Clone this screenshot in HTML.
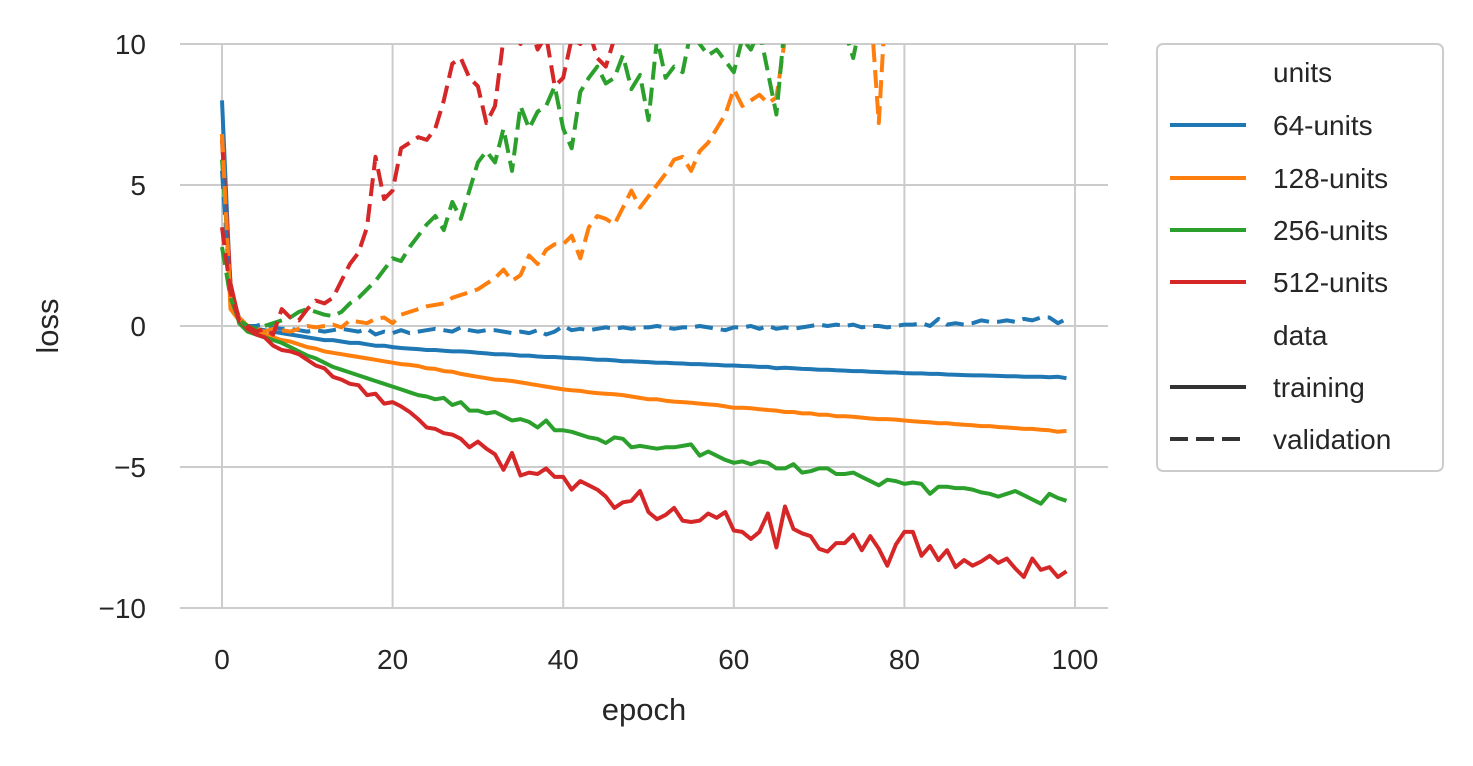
<!DOCTYPE html>
<html><head><meta charset="utf-8"><style>
body{margin:0;background:#fff;}
svg{font-family:"Liberation Sans","DejaVu Sans",sans-serif;}
</style></head><body>
<svg id="chart" width="1473" height="761" viewBox="0 0 1473 761" xmlns="http://www.w3.org/2000/svg">
<defs><clipPath id="pc"><rect x="180" y="44" width="928" height="564"/></clipPath></defs>
<g id="grid"></g>
<g id="xticks"></g>
<g id="yticks"></g>
<g id="series" clip-path="url(#pc)"></g>
<text x="644" y="720" font-size="31" text-anchor="middle" fill="#262626">epoch</text>
<text x="58" y="326" font-size="31" text-anchor="middle" fill="#262626" transform="rotate(-90 58 326)">loss</text>
<g>
<rect x="1157" y="44" width="286" height="427" rx="6" fill="#fff" stroke="#cccccc" stroke-width="2"/>
<text x="1273" y="82" font-size="28" fill="#262626">units</text>
<line x1="1170" y1="125" x2="1246" y2="125" stroke="#1f77b4" stroke-width="4"/><text x="1273" y="135" font-size="28" fill="#262626">64-units</text>
<line x1="1170" y1="178" x2="1246" y2="178" stroke="#ff7f0e" stroke-width="4"/><text x="1273" y="188" font-size="28" fill="#262626">128-units</text>
<line x1="1170" y1="230" x2="1246" y2="230" stroke="#2ca02c" stroke-width="4"/><text x="1273" y="240" font-size="28" fill="#262626">256-units</text>
<line x1="1170" y1="282" x2="1246" y2="282" stroke="#d62728" stroke-width="4"/><text x="1273" y="292" font-size="28" fill="#262626">512-units</text>
<text x="1273" y="345" font-size="28" fill="#262626">data</text>
<line x1="1170" y1="387" x2="1246" y2="387" stroke="#333" stroke-width="4"/><text x="1273" y="397" font-size="28" fill="#262626">training</text>
<line x1="1170" y1="439" x2="1246" y2="439" stroke="#333" stroke-width="4" stroke-dasharray="18,8"/><text x="1273" y="449" font-size="28" fill="#262626">validation</text>
</g>
</svg>
<script>
const xTicks=[0,20,40,60,80,100];
const yTicks=[-10,-5,0,5,10];
const yTickLabels=["−10","−5","0","5","10"];
const t64=[8.0,1.2,0.3,0.0,-0.1,-0.15,-0.2,-0.25,-0.3,-0.35,-0.4,-0.45,-0.5,-0.5,-0.55,-0.6,-0.6,-0.65,-0.7,-0.7,-0.75,-0.78,-0.8,-0.82,-0.85,-0.85,-0.88,-0.9,-0.9,-0.92,-0.95,-0.97,-1.0,-1.0,-1.02,-1.05,-1.05,-1.08,-1.1,-1.1,-1.12,-1.14,-1.15,-1.17,-1.2,-1.2,-1.22,-1.25,-1.25,-1.27,-1.28,-1.3,-1.3,-1.32,-1.33,-1.35,-1.35,-1.37,-1.38,-1.4,-1.4,-1.42,-1.43,-1.45,-1.45,-1.5,-1.48,-1.5,-1.52,-1.53,-1.55,-1.55,-1.57,-1.58,-1.6,-1.6,-1.62,-1.63,-1.65,-1.65,-1.67,-1.68,-1.68,-1.7,-1.7,-1.72,-1.73,-1.74,-1.75,-1.75,-1.76,-1.77,-1.78,-1.78,-1.8,-1.8,-1.8,-1.82,-1.8,-1.85];
const t128=[6.8,0.6,0.2,-0.1,-0.2,-0.3,-0.4,-0.5,-0.55,-0.65,-0.75,-0.8,-0.9,-0.95,-1.0,-1.05,-1.1,-1.15,-1.2,-1.25,-1.3,-1.35,-1.38,-1.42,-1.5,-1.52,-1.6,-1.62,-1.7,-1.75,-1.8,-1.85,-1.9,-1.92,-1.95,-2.0,-2.05,-2.1,-2.15,-2.2,-2.25,-2.28,-2.3,-2.35,-2.38,-2.4,-2.42,-2.45,-2.5,-2.55,-2.6,-2.6,-2.65,-2.68,-2.7,-2.72,-2.75,-2.78,-2.8,-2.85,-2.9,-2.9,-2.92,-2.95,-2.98,-3.0,-3.05,-3.05,-3.1,-3.1,-3.15,-3.15,-3.2,-3.2,-3.22,-3.25,-3.28,-3.3,-3.3,-3.32,-3.35,-3.38,-3.4,-3.42,-3.45,-3.45,-3.48,-3.5,-3.52,-3.55,-3.55,-3.58,-3.6,-3.62,-3.65,-3.65,-3.68,-3.7,-3.75,-3.72];
const t256=[5.9,1.5,0.1,-0.2,-0.3,-0.4,-0.5,-0.6,-0.75,-0.9,-1.05,-1.15,-1.3,-1.45,-1.55,-1.65,-1.75,-1.85,-1.95,-2.05,-2.15,-2.25,-2.35,-2.45,-2.5,-2.6,-2.55,-2.8,-2.7,-3.0,-3.0,-3.1,-3.05,-3.2,-3.35,-3.3,-3.4,-3.6,-3.35,-3.7,-3.7,-3.75,-3.85,-3.95,-4.0,-4.15,-3.95,-4.0,-4.3,-4.25,-4.3,-4.35,-4.3,-4.3,-4.25,-4.2,-4.6,-4.45,-4.6,-4.75,-4.85,-4.8,-4.9,-4.8,-4.85,-5.05,-5.05,-4.9,-5.2,-5.15,-5.05,-5.05,-5.25,-5.25,-5.2,-5.35,-5.5,-5.65,-5.45,-5.5,-5.6,-5.55,-5.6,-5.95,-5.7,-5.7,-5.75,-5.75,-5.8,-5.9,-5.95,-6.05,-5.95,-5.85,-6.0,-6.15,-6.3,-5.95,-6.1,-6.2];
const t512=[6.6,1.5,0.2,-0.1,-0.3,-0.4,-0.7,-0.85,-0.9,-1.0,-1.2,-1.4,-1.5,-1.8,-1.9,-2.05,-2.1,-2.45,-2.4,-2.75,-2.7,-2.85,-3.05,-3.3,-3.6,-3.65,-3.8,-3.85,-4.0,-4.3,-4.1,-4.35,-4.55,-5.1,-4.5,-5.3,-5.2,-5.25,-5.05,-5.35,-5.35,-5.8,-5.5,-5.65,-5.8,-6.05,-6.45,-6.25,-6.2,-5.85,-6.6,-6.85,-6.7,-6.45,-6.9,-6.95,-6.9,-6.65,-6.8,-6.6,-7.25,-7.3,-7.55,-7.3,-6.65,-7.85,-6.4,-7.2,-7.35,-7.45,-7.9,-8.0,-7.7,-7.7,-7.4,-7.95,-7.45,-7.9,-8.5,-7.75,-7.3,-7.3,-8.15,-7.8,-8.3,-7.95,-8.55,-8.3,-8.5,-8.35,-8.15,-8.4,-8.25,-8.6,-8.9,-8.25,-8.65,-8.55,-8.9,-8.7];
const v64=[5.5,1.0,0.2,0.0,0.0,0.1,-0.05,-0.1,-0.1,-0.15,-0.2,-0.15,-0.2,-0.15,-0.1,-0.15,-0.2,-0.1,-0.3,-0.2,-0.25,-0.15,-0.25,-0.2,-0.15,-0.1,-0.15,-0.2,-0.05,-0.15,-0.2,-0.15,-0.15,-0.2,-0.25,-0.2,-0.25,-0.15,-0.3,-0.2,0.0,-0.15,-0.1,-0.15,-0.1,-0.05,-0.1,-0.05,-0.1,-0.05,-0.05,0.0,-0.05,-0.1,-0.05,-0.05,0.0,-0.05,-0.1,-0.15,-0.05,-0.05,0.0,-0.1,0.0,-0.1,-0.05,-0.1,-0.05,0.0,0.05,0.0,0.05,0.0,0.05,-0.05,0.0,0.0,-0.05,0.0,0.05,0.05,0.1,0.0,0.25,0.05,0.1,0.05,0.1,0.2,0.15,0.15,0.2,0.15,0.25,0.2,0.3,0.3,0.1,0.25];
const v128=[6.8,0.8,0.3,0.0,-0.1,-0.2,-0.1,-0.15,-0.2,-0.1,0.0,-0.05,0.0,0.05,-0.05,0.2,0.15,0.1,0.25,0.3,0.1,0.4,0.5,0.6,0.7,0.75,0.8,1.0,1.1,1.2,1.3,1.5,1.7,2.0,1.6,1.8,2.5,2.2,2.7,2.9,2.9,3.2,2.4,3.5,3.9,3.8,3.6,4.2,4.8,4.2,4.6,5.0,5.4,5.9,6.0,5.5,6.2,6.5,7.0,7.5,8.4,7.8,8.0,8.2,7.9,8.1,10.2,11.0,10.5,11.0,11.2,11.5,11.0,11.5,11.8,12.0,11.5,7.2,12.5,13,13,13,13,13,13,13,13,13,13,13,13,13,13,13,13,13,13,13,13,13];
const v256=[2.8,1.0,0.2,0.0,-0.1,0.0,0.1,0.2,0.3,0.5,0.6,0.5,0.4,0.35,0.5,0.8,1.0,1.3,1.6,2.0,2.4,2.3,2.8,3.2,3.6,3.9,3.4,4.4,3.8,4.8,5.8,6.2,5.8,7.0,5.5,7.8,7.0,7.6,7.8,8.5,7.0,6.3,8.3,8.8,9.2,8.6,8.8,9.6,8.4,8.9,7.3,10.2,8.8,9.2,9.0,10.5,10.0,9.6,9.8,9.4,9.0,10.2,9.8,10.5,9.0,7.5,10.8,10.5,11,11,11,11,11,10.5,9.5,11,11.5,12,12,12,12,12,12,12,12,12,12,12,12,12,12,12,12,12,12,12,12,12,12,12];
const v512=[3.5,1.2,0.2,0.0,-0.2,-0.1,-0.3,0.6,0.3,0.2,0.6,0.9,0.8,1.0,1.6,2.2,2.6,3.5,6.0,4.5,4.8,6.3,6.5,6.7,6.6,7.0,8.0,9.3,9.5,8.8,8.5,7.2,7.8,10.2,10.5,10.0,10.8,9.8,10.3,8.5,8.8,10.2,10.0,10.5,9.5,9.2,10.2,10.5,11,11,11,11,11,11,11,11,11,11,11,11,11,11,11,11,11,11,11,11,11,11,11,11,11,11,11,11,11,11,11,11,11,11,11,11,11,11,11,11,11,11,11,11,11,11,11,11,11,11,11,11];
const seriesList=[
 {name:'64-units-training',data:t64,color:'#1f77b4',dash:false},
 {name:'128-units-training',data:t128,color:'#ff7f0e',dash:false},
 {name:'256-units-training',data:t256,color:'#2ca02c',dash:false},
 {name:'512-units-training',data:t512,color:'#d62728',dash:false},
 {name:'64-units-validation',data:v64,color:'#1f77b4',dash:true},
 {name:'128-units-validation',data:v128,color:'#ff7f0e',dash:true},
 {name:'256-units-validation',data:v256,color:'#2ca02c',dash:true},
 {name:'512-units-validation',data:v512,color:'#d62728',dash:true}];
const NS='http://www.w3.org/2000/svg';
const xs=v=>222+v*8.53;
const ys=v=>326-v*28.2;
const grid=document.getElementById('grid'),xt=document.getElementById('xticks'),yt=document.getElementById('yticks'),sg=document.getElementById('series');
function mk(tag,attrs,parent){const e=document.createElementNS(NS,tag);for(const k in attrs)e.setAttribute(k,attrs[k]);parent.appendChild(e);return e;}
xTicks.forEach(t=>{
 const l=mk('line',{x1:xs(t),x2:xs(t),y1:44,y2:608,stroke:'#cccccc','stroke-width':2},grid);
 
 
 const tx=mk('text',{x:xs(t),y:669,'font-size':28,'text-anchor':'middle',fill:'#262626'},xt);
 
 
 tx.textContent=t;
});
yTicks.forEach((t,i)=>{
 const l=mk('line',{x1:180,x2:1108,y1:ys(t),y2:ys(t),stroke:'#cccccc','stroke-width':2},grid);
 
 
 const tx=mk('text',{x:146,y:ys(t)+10,'font-size':28,'text-anchor':'end',fill:'#262626'},yt);
 
 
 tx.textContent=yTickLabels[i];
});
seriesList.forEach(s=>{
 const d=s.data.map((v,i)=>(i?'L':'M')+xs(i).toFixed(1)+','+ys(v).toFixed(1)).join('');
 const p=mk('path',{d:d,fill:'none',stroke:s.color,'stroke-width':4,'stroke-linejoin':'round'},sg);
 if(s.dash)p.setAttribute('stroke-dasharray','18,8');
 
 
});
</script>
</body></html>
